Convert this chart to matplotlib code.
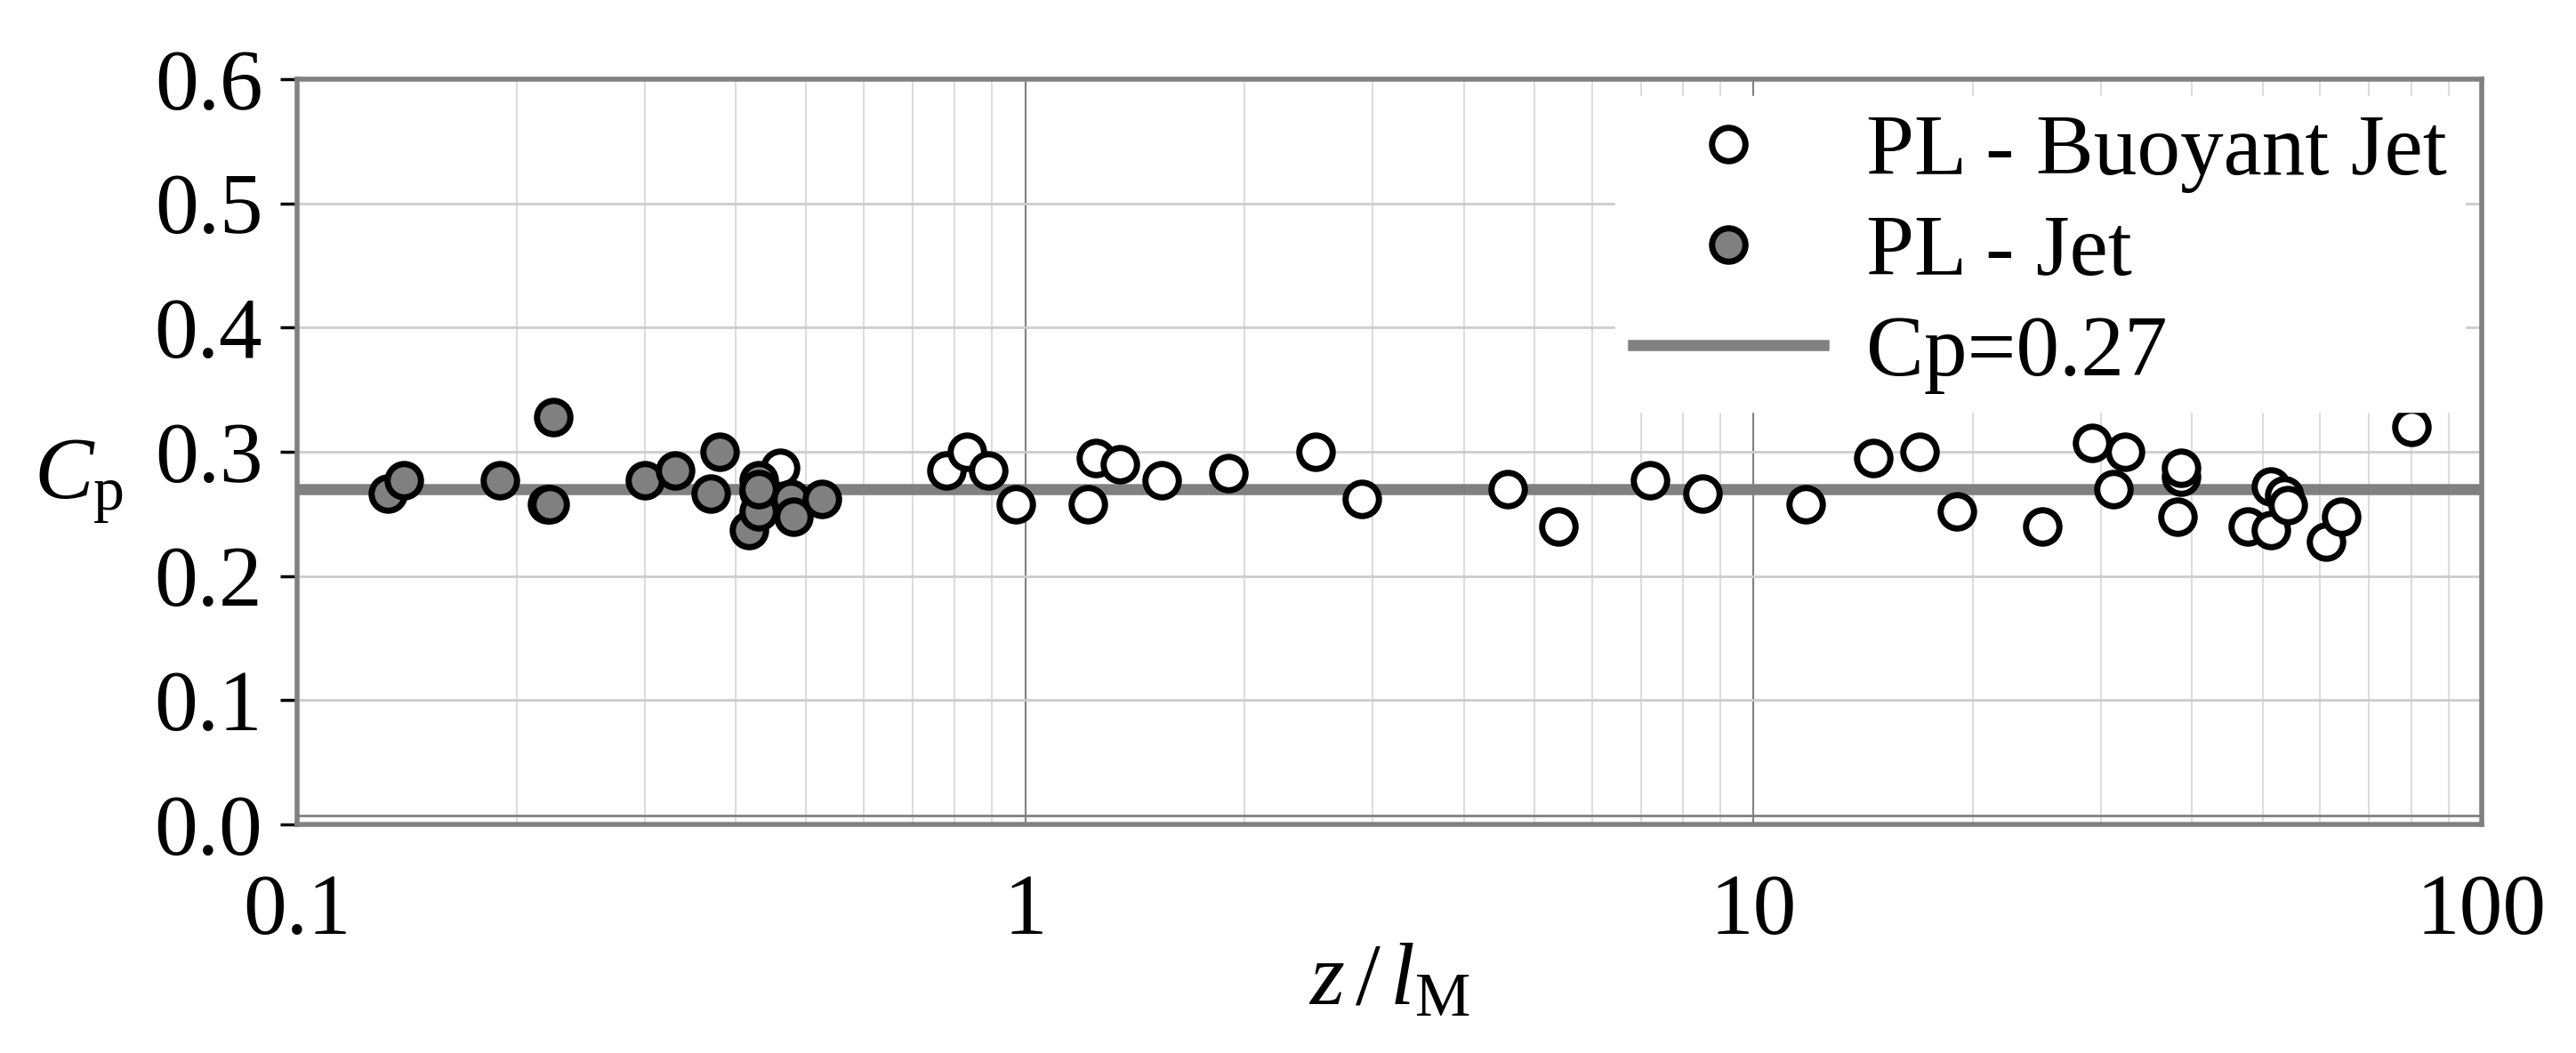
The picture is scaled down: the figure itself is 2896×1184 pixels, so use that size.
import matplotlib
matplotlib.use("Agg")
import matplotlib.pyplot as plt
from matplotlib.ticker import FixedLocator, NullFormatter

jet_x = [0.133, 0.14, 0.19, 0.22, 0.222, 0.225, 0.30, 0.33, 0.37, 0.38, 0.417, 0.43, 0.43, 0.43, 0.43, 0.476, 0.48, 0.525]
jet_y = [0.266, 0.277, 0.277, 0.258, 0.258, 0.328, 0.277, 0.285, 0.266, 0.300, 0.237, 0.277, 0.268, 0.252, 0.270, 0.262, 0.248, 0.262]
bj_x = [0.46, 0.78, 0.83, 0.89, 0.97, 1.22, 1.25, 1.35, 1.54, 1.9, 2.5, 2.9, 4.6, 5.4, 7.2, 8.5, 11.8, 14.6, 16.9,
        19.0, 24.9, 29.2, 31.2, 32.4, 38.2, 38.6, 38.6, 47.7, 51.4, 51.4, 53.5, 54.2, 61.2, 64.2, 80.0]
bj_y = [0.287, 0.285, 0.300, 0.285, 0.258, 0.258, 0.295, 0.290, 0.277, 0.283, 0.300, 0.262, 0.270, 0.240, 0.277, 0.266, 0.258, 0.295, 0.300,
        0.252, 0.240, 0.307, 0.270, 0.300, 0.248, 0.280, 0.287, 0.240, 0.272, 0.237, 0.265, 0.257, 0.228, 0.248, 0.320]
cp_const = 0.27

plt.rcParams['font.family'] = ['Liberation Serif', 'DejaVu Serif']
plt.rcParams['mathtext.fontset'] = 'custom'
plt.rcParams['mathtext.rm'] = 'Liberation Serif'
plt.rcParams['mathtext.it'] = 'Liberation Serif:italic'
fig = plt.figure(figsize=(28.96, 11.84), dpi=100)
ax = fig.add_axes([0.1154, 0.217, 0.848, 0.708])
ax.set_xscale('log')
ax.set_xlim(0.1, 100)
ax.set_ylim(0, 0.6)

ax.xaxis.set_minor_locator(FixedLocator([m * 10**e for e in (-1, 0, 1) for m in range(2, 10)]))
ax.xaxis.set_minor_formatter(NullFormatter())
ax.set_xticks([0.1, 1, 10, 100])
ax.set_xticklabels(['0.1', '1', '10', '100'])
ax.set_yticks([0, 0.1, 0.2, 0.3, 0.4, 0.5, 0.6])
ax.set_yticklabels(['0.0', '0.1', '0.2', '0.3', '0.4', '0.5', '0.6'])
ax.grid(True, which='minor', axis='x', color='#dcdcdc', lw=1.5)
ax.grid(True, which='major', axis='x', color='#808080', lw=1.5)
ax.grid(True, which='major', axis='y', color='#cccccc', lw=2)
ax.axhline(0.007, color='#808080', lw=2)
for s in ax.spines.values():
    s.set_color('#808080'); s.set_linewidth(4)
ax.tick_params(axis='y', which='major', labelsize=70, length=14, width=2.5, color='black', pad=14, direction='out')
ax.tick_params(axis='x', which='major', labelsize=70, length=0, pad=40)
ax.tick_params(axis='x', which='minor', length=0)

ax.plot(bj_x, bj_y, 'o', ms=27, mfc='white', mec='black', mew=5, label='PL - Buoyant Jet', zorder=4)
ax.plot(jet_x, jet_y, 'o', ms=27, mfc='#808080', mec='black', mew=5, label='PL - Jet', zorder=4)
ax.axhline(cp_const, color='#808080', lw=9, label='Cp=0.27', zorder=3)

leg = ax.legend(loc='upper right', fontsize=70, frameon=True, framealpha=1, edgecolor='white',
                borderaxespad=0.2, handlelength=2.2, handletextpad=0.5, labelspacing=0.25, borderpad=0.2)
leg.set_zorder(5)

ax.set_xlabel(r'$z\,/\,l_{\mathrm{M}}$', fontsize=72, labelpad=-8)
ax.set_ylabel(r'$C_{\mathrm{p}}$', fontsize=72, rotation=0)
ax.yaxis.set_label_coords(-0.1, 0.40)
fig.savefig('out.png', dpi=100)
